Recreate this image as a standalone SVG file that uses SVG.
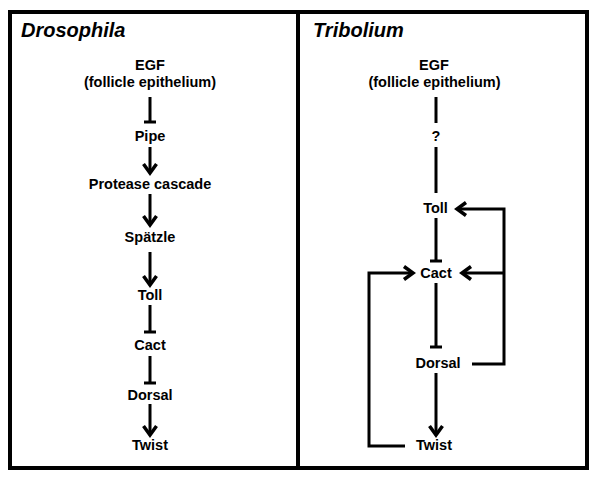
<svg xmlns="http://www.w3.org/2000/svg" width="600" height="478" viewBox="0 0 600 478">
<defs>
<style>
text{font-family:"Liberation Sans",Arial,sans-serif;font-weight:bold;fill:#000}
.lbl{font-size:14.5px;text-anchor:middle}
.title{font-size:20px;font-style:italic}
.c{fill:none;stroke:#000;stroke-width:3}
.act{marker-end:url(#arrow)}
.inh{marker-end:url(#bar)}
</style>
<marker id="arrow" viewBox="-14 -10 18 20" markerWidth="18" markerHeight="20" refX="0" refY="0" orient="auto" markerUnits="userSpaceOnUse">
<path d="M-9,-6.5 L0,0 L-9,6.5" fill="none" stroke="#000" stroke-width="3.5"/>
</marker>
<marker id="bar" viewBox="-4 -8 8 16" markerWidth="8" markerHeight="16" refX="0" refY="0" orient="auto" markerUnits="userSpaceOnUse">
<path d="M0,-6 L0,6" stroke="#000" stroke-width="3"/>
</marker>
</defs>
<rect width="600" height="478" fill="#fff"/>
<g id="frame">
<rect x="10" y="12" width="577" height="456" fill="none" stroke="#000" stroke-width="4"/>
<line x1="298" y1="12" x2="298" y2="468" stroke="#000" stroke-width="4"/>
</g>
<g id="titles">
<text class="title" x="21" y="37">Drosophila</text>
<text class="title" x="313" y="37">Tribolium</text>
</g>
<g id="connectors">
<line class="c inh" x1="150" y1="97" x2="150" y2="122"/>
<line class="c act" x1="150" y1="147" x2="150" y2="173"/>
<line class="c act" x1="150" y1="194" x2="150" y2="225"/>
<line class="c act" x1="150" y1="252" x2="150" y2="285"/>
<line class="c inh" x1="150" y1="305" x2="150" y2="332"/>
<line class="c inh" x1="150" y1="356" x2="150" y2="383"/>
<line class="c act" x1="150" y1="404" x2="150" y2="435"/>
<line class="c" x1="436" y1="97" x2="436" y2="123"/>
<line class="c" x1="436" y1="147" x2="436" y2="193"/>
<line class="c inh" x1="436" y1="218" x2="436" y2="261"/>
<line class="c inh" x1="436" y1="283" x2="436" y2="347"/>
<line class="c act" x1="436" y1="373" x2="436" y2="435"/>
<path class="c act" d="M472,364 H504 V209 H457"/>
<path class="c act" d="M504,273 H462"/>
<path class="c act" d="M405,446 H369 V273 H413"/>
</g>
<g id="d-egf"><text class="lbl" x="150" y="70">EGF</text><text class="lbl" x="150" y="87">(follicle epithelium)</text></g>
<g id="d-pipe"><text class="lbl" x="150" y="141">Pipe</text></g>
<g id="d-protease"><text class="lbl" x="150" y="189">Protease cascade</text></g>
<g id="d-spatzle"><text class="lbl" x="150" y="242">Spätzle</text></g>
<g id="d-toll"><text class="lbl" x="150" y="300">Toll</text></g>
<g id="d-cact"><text class="lbl" x="150" y="350">Cact</text></g>
<g id="d-dorsal"><text class="lbl" x="150" y="400">Dorsal</text></g>
<g id="d-twist"><text class="lbl" x="150" y="450">Twist</text></g>
<g id="t-egf"><text class="lbl" x="434" y="70">EGF</text><text class="lbl" x="434.5" y="87">(follicle epithelium)</text></g>
<g id="t-q"><text class="lbl" x="436" y="141">?</text></g>
<g id="t-toll"><text class="lbl" x="435.5" y="213">Toll</text></g>
<g id="t-cact"><text class="lbl" x="436" y="278">Cact</text></g>
<g id="t-dorsal"><text class="lbl" x="438" y="368">Dorsal</text></g>
<g id="t-twist"><text class="lbl" x="434" y="450">Twist</text></g>
</svg>
